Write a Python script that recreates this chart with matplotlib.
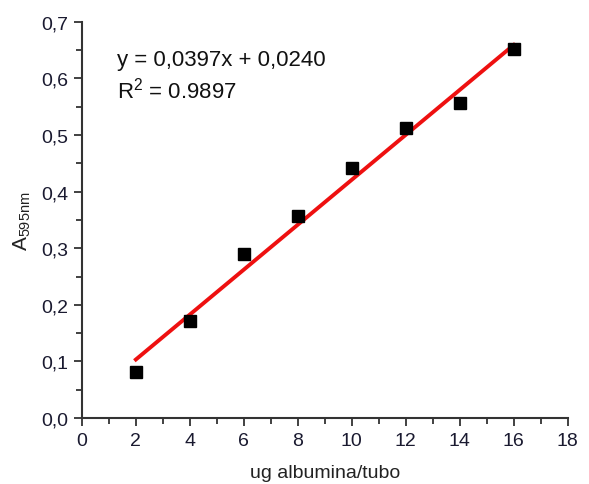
import numpy as np
import matplotlib.pyplot as plt
from matplotlib.ticker import MultipleLocator, FuncFormatter

plt.rcParams['font.family'] = ['Liberation Sans', 'DejaVu Sans']
plt.rcParams['mathtext.fontset'] = 'custom'
plt.rcParams['mathtext.rm'] = 'Liberation Sans'
plt.rcParams['mathtext.it'] = 'Liberation Sans:italic'

# standard curve data (ug albumin per tube vs absorbance at 595 nm)
ug_albumina = [2, 4, 6, 8, 10, 12, 14, 16]
a595 = [0.081, 0.171, 0.290, 0.357, 0.442, 0.513, 0.557, 0.652]

# fit reported on the chart
slope = 0.0397
intercept = 0.0240
r2 = 0.9897

fig = plt.figure(figsize=(5.89, 4.85), dpi=100)
ax = fig.add_axes([0.139, 0.136, 0.825, 0.817])

x_fit = np.array([ug_albumina[0], ug_albumina[-1]])
ax.plot(x_fit, slope * x_fit + intercept, color='#ee1010', lw=2.8, zorder=2)
ax.plot(ug_albumina, a595, 's', color='black', markersize=8.5, zorder=3)

ax.set_xlim(0, 18)
ax.set_ylim(0, 0.7)
ax.xaxis.set_major_locator(MultipleLocator(2))
ax.xaxis.set_minor_locator(MultipleLocator(1))
ax.yaxis.set_major_locator(MultipleLocator(0.1))
ax.yaxis.set_minor_locator(MultipleLocator(0.05))
ax.yaxis.set_major_formatter(FuncFormatter(lambda v, p: ("%.1f" % v).replace('.', ',')))

for s in ['top', 'right']:
    ax.spines[s].set_visible(False)
for s in ['left', 'bottom']:
    ax.spines[s].set_color('#333333')
    ax.spines[s].set_linewidth(1.5)

ax.tick_params(which='major', direction='out', length=6, width=1.3, color='#333333',
               labelsize=14, labelcolor='#1a1a30', pad=4)
ax.tick_params(which='minor', direction='out', length=4, width=1.3, color='#333333')

ax.set_xlabel('ug albumina/tubo', fontsize=14, color='#222222', labelpad=11)
ax.set_ylabel(r'A$_{\mathrm{595nm}}$', fontsize=15, color='#222222', labelpad=6)

ax.text(0.072, 0.906, ("y = %.4fx + %.4f" % (slope, intercept)).replace('.', ','),
        transform=ax.transAxes, fontsize=16, va='center', color='#111111')
ax.text(0.072, 0.83, "R$^2$ = %.4f" % r2,
        transform=ax.transAxes, fontsize=16, va='center', color='#111111')

fig.savefig('out.png')
